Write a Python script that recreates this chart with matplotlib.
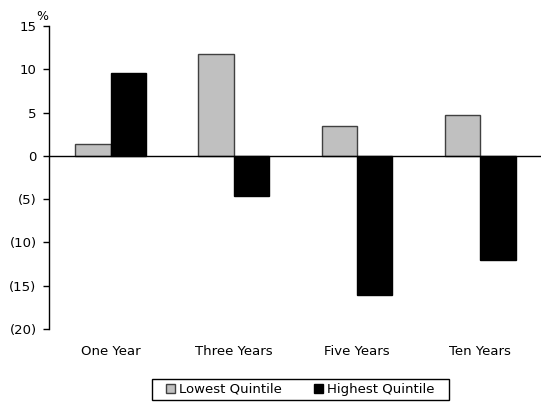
import numpy as np
import matplotlib
matplotlib.use("Agg")
from matplotlib import pyplot as plt
from matplotlib.patches import Rectangle

categories = ["One Year", "Three Years", "Five Years", "Ten Years"]
lowest = [1.4, 11.8, 3.4, 4.7]
highest = [9.6, -4.6, -16.1, -12.1]
yticks = [15, 10, 5, 0, -5, -10, -15, -20]
ylabels = ["15", "10", "5", "0", "(5)", "(10)", "(15)", "(20)"]

plt.rcParams['font.family'] = ['DejaVu Sans']
fig = plt.figure(figsize=(5.41, 4.13), dpi=100)
ax = fig.add_axes([0.0906, 0.204, 0.911, 0.733])

x = np.arange(len(categories))
w = 0.287
ax.bar(x - w/2, lowest, w, color="#C0C0C0", edgecolor="#404040", linewidth=1, label="Lowest Quintile")
ax.bar(x + w/2, highest, w, color="black", edgecolor="black", linewidth=1, label="Highest Quintile")
ax.axhline(0, color="black", linewidth=1)

ax.set_xlim(-0.5, 3.5)
ax.set_ylim(-20, 15)
ax.set_yticks(yticks)
ax.set_yticklabels(ylabels, fontsize=9.5)
ax.set_xticks(x)
ax.set_xticklabels(categories, fontsize=9.5)
ax.tick_params(axis="x", length=0, pad=12)
ax.tick_params(axis="y", length=4, width=1, pad=5)
for s in ["top", "right", "bottom"]:
    ax.spines[s].set_visible(False)
ax.spines["left"].set_linewidth(1)
ax.text(-0.014, 1.03, "%", transform=ax.transAxes, fontsize=9, ha="center", va="center")

# legend box drawn by hand so the padding matches
fig.patches.append(Rectangle((152/541, 1 - 400/413), 297/541, 21/413, transform=fig.transFigure,
                             facecolor="white", edgecolor="black", linewidth=1))
leg = fig.legend(loc="center", bbox_to_anchor=(0.555, 0.057), ncol=2, fontsize=9.5,
                 frameon=False, handlelength=0.7, handleheight=0.7,
                 handletextpad=0.3, columnspacing=2.4, borderpad=0.3)

fig.savefig("out.png", dpi=100)
